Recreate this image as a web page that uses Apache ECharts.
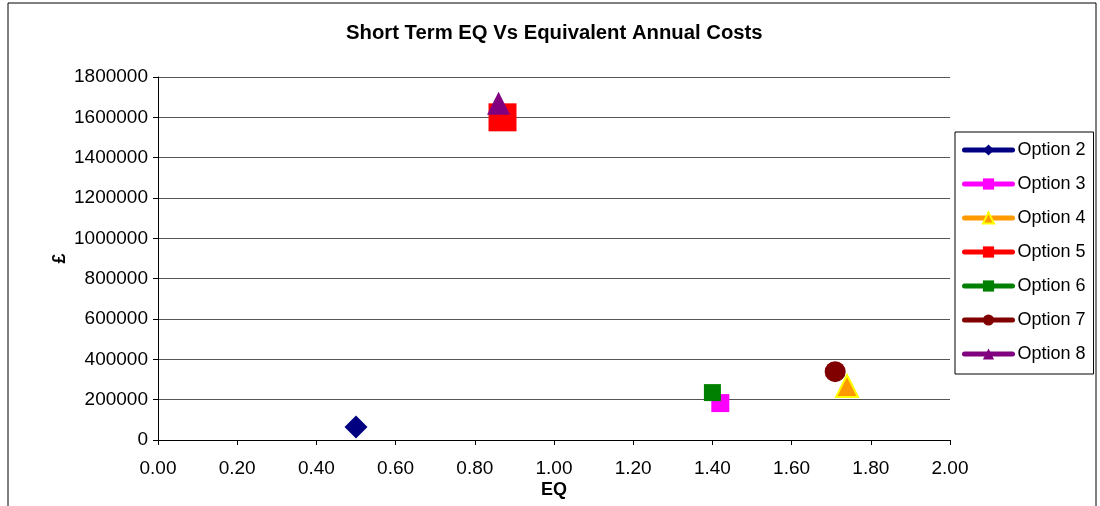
<!DOCTYPE html>
<html>
<head>
<meta charset="utf-8">
<script src="https://cdn.jsdelivr.net/npm/echarts@6/dist/echarts.min.js"></script>
<style>
  html, body { margin: 0; padding: 0; background: #fff; }
  #chart { width: 1100px; height: 506px; }
</style>
</head>
<body>
<div id="chart"></div>
<script>
// Option names, EQ scores and equivalent annual costs (£)
const optionNames = ['Option 2', 'Option 3', 'Option 4', 'Option 5', 'Option 6', 'Option 7', 'Option 8'];
const eqValues    = [0.50, 1.42, 1.74, 0.87, 1.40, 1.71, 0.86];
const costValues  = [65000, 183000, 268000, 1600000, 235000, 339000, 1670000];

// Marker look per option
const markerShapes = ['diamond', 'rect', 'triangle', 'rect', 'rect', 'circle', 'triangle'];
const markerSizes  = [23, 18, 22, 28, 17, 21, 23];
const markerColors = ['#000080', '#FF00FF', '#FF9900', '#FF0000', '#008000', '#800000', '#800080'];
const markerBorders = [null, null, '#FFFF00', null, null, null, null];

const FONT = "'Liberation Sans', Arial, sans-serif";

const series = optionNames.map((name, i) => ({
  name: name,
  type: 'line',
  data: [[eqValues[i], costValues[i]]],
  symbol: markerShapes[i],
  symbolSize: markerSizes[i],
  showSymbol: true,
  lineStyle: { color: markerColors[i], width: 5, cap: 'round' },
  itemStyle: markerBorders[i]
    ? { color: markerColors[i], borderColor: markerBorders[i], borderWidth: 2 }
    : { color: markerColors[i], borderWidth: 0 },
  emphasis: { disabled: true },
  z: 2 + i
}));

const chart = echarts.init(document.getElementById('chart'), null, { renderer: 'canvas' });
chart.setOption({
  animation: false,
  backgroundColor: '#ffffff',
  title: {
    text: 'Short Term EQ Vs Equivalent Annual Costs',
    left: 346,
    top: 23,
    padding: 0,
    textStyle: { fontFamily: FONT, fontSize: 20.3, fontWeight: 'bold', color: '#000' }
  },
  graphic: [{
    type: 'rect',
    shape: { x: 8, y: 3, width: 1088, height: 540 },
    style: { fill: 'none', stroke: '#000', lineWidth: 1 },
    silent: true,
    z: -1
  }],
  grid: { left: 158, right: 150, top: 77, bottom: 66, containLabel: false, outerBoundsMode: 'none' },
  legend: {
    orient: 'vertical',
    left: 955,
    top: 132,
    padding: [9, 8, 11, 7],
    itemWidth: 48,
    itemHeight: 14,
    itemGap: 16,
    backgroundColor: '#fff',
    borderColor: '#000',
    borderWidth: 1,
    borderRadius: 0,
    lineStyle: { width: 5, cap: 'round' },
    textStyle: { fontFamily: FONT, fontSize: 18, color: '#000' },
    data: optionNames
  },
  xAxis: {
    type: 'value',
    min: 0,
    max: 2,
    interval: 0.2,
    name: 'EQ',
    nameLocation: 'middle',
    nameGap: 41,
    nameMoveOverlap: false,
    nameTextStyle: { fontFamily: FONT, fontSize: 18, fontWeight: 'bold', color: '#000' },
    axisLine: { show: true, lineStyle: { color: '#000', width: 1 } },
    axisTick: { show: true, length: 5, lineStyle: { color: '#000' } },
    axisLabel: {
      margin: 19,
      fontFamily: FONT, fontSize: 19, color: '#000',
      formatter: v => v.toFixed(2)
    },
    splitLine: { show: false }
  },
  yAxis: {
    type: 'value',
    min: 0,
    max: 1800000,
    interval: 200000,
    name: '£',
    nameLocation: 'middle',
    nameGap: 89,
    nameMoveOverlap: false,
    nameRotate: 90,
    nameTextStyle: { fontFamily: FONT, fontSize: 18, fontWeight: 'bold', color: '#000' },
    axisLine: { show: true, lineStyle: { color: '#000', width: 1 } },
    axisTick: { show: true, length: 5, lineStyle: { color: '#000' } },
    axisLabel: { margin: 10, fontFamily: FONT, fontSize: 19, color: '#000', formatter: v => String(v) },
    splitLine: { show: true, lineStyle: { color: '#555', width: 1 } }
  },
  series: series
});
</script>
</body>
</html>
